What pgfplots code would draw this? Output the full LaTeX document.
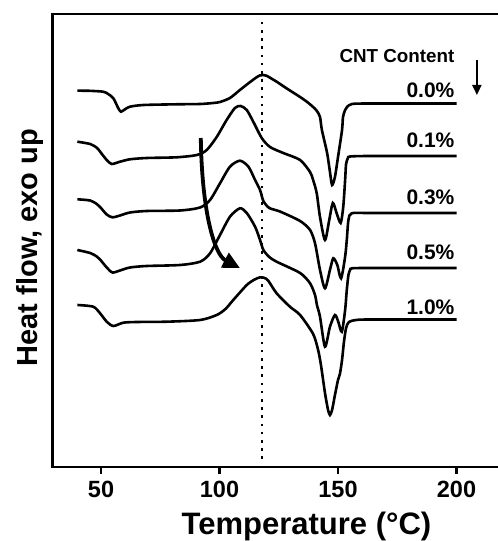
\documentclass[border=0pt]{standalone}
\usepackage{pgfplots}
\pgfplotsset{compat=1.18}
\usepackage{fontspec}
\setmainfont{Liberation Sans}
\usetikzlibrary{arrows.meta}

\begin{document}
\begin{tikzpicture}
\begin{axis}[
  name=ax,
  scale only axis,
  width=449.3pt, height=453pt,
  xmin=29.6, xmax=219.2, ymin=0, ymax=453,
  clip=false,
  axis line style={line width=2.8pt},
  xtick={50,100,150,200},
  ytick=\empty,
  tick align=outside,
  major tick length=7pt,
  xtick pos=left,
  every tick/.style={line width=2.4pt, black},
  /pgf/number format/assume math mode=true,
  xticklabel style={font=\bfseries\fontsize{23.5}{24}\selectfont, yshift=-4pt},
]
% 0.0 %
\addplot[line width=2.6pt, smooth, tension=0.45] coordinates {
(40,376.3) (45,376.2) (50.9,375.3) (53,373) (55.2,368.7) (57.3,358.7) (58.4,355.3) (60.1,357.7) (62.2,360.3) (67.9,362) (81.9,362.7) (91.8,363) (97.3,364) (100.2,365) (104.4,369) (108.6,377) (112.9,385) (115.5,389.5) (117,391.5) (118.4,392) (119.8,391.3) (121.3,389.3) (124.3,385) (126.8,381) (129.7,376.5) (134.0,370) (137.0,365) (139.5,360) (141.1,356) (142.4,350) (143.2,337) (145.4,314) (146.6,295) (147.5,282) (148.7,290) (150.0,310) (151.7,337) (152.1,350) (153.0,357) (153.8,360) (155.9,363) (163.5,363.5) (200,363.5)};
% 0.1 %
\addplot[line width=2.6pt, smooth, tension=0.45] coordinates {
(40,325.3) (45.4,323) (48.2,319.3) (49.6,315.3) (52.4,307) (54.5,303) (58,305.3) (62.2,307.7) (69.2,309) (81.9,309.7) (90.4,312) (94.6,317) (98.8,330) (103.0,347) (106.5,359) (108.9,361) (111.5,357) (114.3,345) (117.8,329) (121.3,320) (126.9,314) (134.0,307) (138.2,295) (139.5,287) (141.0,274) (142.4,250) (144.5,227) (146.3,247) (147.8,264) (149.4,254) (151.1,244) (152.2,260) (153.0,287) (153.4,303) (154.2,309) (155.1,310.5) (163.5,311) (200,311)};
% 0.3 %
\addplot[line width=2.6pt, smooth, tension=0.45] coordinates {
(40,267.7) (45.4,266.5) (48.2,263) (49.6,260) (52.4,252.5) (54.8,249.7) (58,251.5) (62.2,254.5) (69.2,256) (83.3,256.5) (91.8,259.5) (96.0,267) (100.2,283.7) (104.4,300.3) (108.6,306.3) (112.2,300.3) (115.0,287) (117.1,277) (118.5,266) (121,259) (125.5,255.5) (134.0,246) (138.2,237) (140.3,223.7) (142.4,197) (144.5,178.7) (146.6,197) (148.0,208.7) (149.7,202) (151.3,188.7) (153.0,210.3) (153.7,227) (154.4,247) (155.8,253.7) (163.5,254) (200,254)};
% 0.5 %
\addplot[line width=2.6pt, smooth, tension=0.45] coordinates {
(40,217) (45.4,214) (48.2,210.5) (49.6,207.5) (52.4,199.5) (54.8,194.5) (58,196.5) (62.2,199.5) (69.2,201) (83.3,202) (91.8,205.3) (96.0,213.7) (100.2,232) (104.4,250.3) (108.6,258.7) (111.5,254) (115.0,240.3) (117.1,227) (118.5,217) (121,210) (124.1,205.3) (134,194) (138.2,183.7) (140.3,172) (141.1,162) (142.4,150.3) (144.5,120.3) (146.6,140.3) (148.7,152) (150.1,145.3) (151.6,135.3) (153.0,157) (153.7,177) (154.4,192) (155.1,197) (155.9,198.7) (163.5,199) (200,199)};
% 1.0 %
\addplot[line width=2.6pt, smooth, tension=0.45] coordinates {
(40,162) (46.7,160.3) (49.6,153.7) (52.4,145.3) (55.2,141) (59.4,144.3) (65,145) (77.7,145.3) (91.8,147) (98.8,152) (102.5,158) (105.8,167) (111.5,182) (114.8,187.5) (117.1,189.7) (118.8,189.2) (120.5,186.5) (124.1,173.7) (129.7,160.3) (134.0,152) (139.5,133) (141.6,117) (142.8,102) (144.5,74) (145.8,57) (146.6,52) (147.5,57) (148.7,72) (150.0,87) (150.8,93) (151.7,107) (152.5,125) (153.4,139) (154.6,145) (157.6,147) (163.5,147.5) (200,147.5)};
% dotted reference line
\addplot[line width=2.6pt, dash pattern=on 2.6pt off 5.6pt] coordinates {(118,8) (118,445)};
% curved arrow
\draw[line width=3.8pt, -{Triangle[length=17pt,width=16pt]}] (axis cs:92.1,329) .. controls (axis cs:92.6,252) and (axis cs:98.1,212) .. (axis cs:108.6,199);
% labels
\node[anchor=base east, font=\bfseries\fontsize{21}{21}\selectfont] at (axis cs:200.6,369) {0.0\%};
\node[anchor=base east, font=\bfseries\fontsize{21}{21}\selectfont] at (axis cs:200.6,319) {0.1\%};
\node[anchor=base east, font=\bfseries\fontsize{21}{21}\selectfont] at (axis cs:200.6,262) {0.3\%};
\node[anchor=base east, font=\bfseries\fontsize{21}{21}\selectfont] at (axis cs:200.6,207) {0.5\%};
\node[anchor=base east, font=\bfseries\fontsize{21}{21}\selectfont] at (axis cs:200.6,152) {1.0\%};
\node[anchor=base east, font=\bfseries\fontsize{18.8}{19}\selectfont] at (axis cs:200.6,404) {CNT Content};
\draw[line width=2.2pt, -{Triangle[length=10pt,width=9pt]}] (axis cs:208.6,407) -- (axis cs:208.6,372);
% axis labels
\node[rotate=90, anchor=base, font=\bfseries\fontsize{29}{29}\selectfont] at (axis cs:23.0,219.5) {Heat flow, exo up};
\node[anchor=base, font=\bfseries\fontsize{31}{31}\selectfont] at (axis cs:136.7,-67.5) {Temperature (°C)};
\end{axis}
\pgfresetboundingbox
\path[use as bounding box] ([xshift=-52.7pt,yshift=-74pt]ax.south west) rectangle ([xshift=-4pt,yshift=14pt]ax.north east);
\end{tikzpicture}
\end{document}
